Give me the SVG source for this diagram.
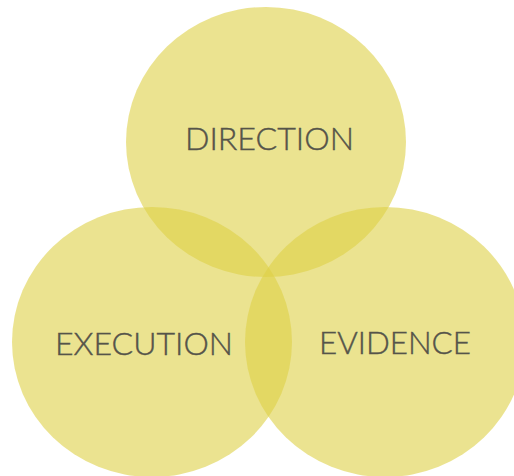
<svg xmlns="http://www.w3.org/2000/svg" width="514" height="476" viewBox="0 0 514 476">
<style>
.c{fill:#DDD046;fill-opacity:0.6}
.t{font-family:Lato,"Liberation Sans",sans-serif;font-weight:300;font-size:31px;fill:#55544a;stroke:#55544a;stroke-width:0.4;text-anchor:middle}
</style>
<rect width="514" height="476" fill="#ffffff"/>
<g id="direction">
<ellipse class="c" cx="266" cy="142" rx="140" ry="135"/>
<text class="t" x="269.5" y="150" textLength="169" lengthAdjust="spacingAndGlyphs">DIRECTION</text>
</g>
<g id="execution">
<ellipse class="c" cx="152" cy="342" rx="140" ry="135"/>
<text class="t" x="144" y="355" textLength="178" lengthAdjust="spacingAndGlyphs">EXECUTION</text>
</g>
<g id="evidence">
<ellipse class="c" cx="385" cy="342" rx="140" ry="135"/>
<text class="t" x="395" y="354" textLength="152" lengthAdjust="spacingAndGlyphs">EVIDENCE</text>
</g>
<g id="connectors"></g>
</svg>
